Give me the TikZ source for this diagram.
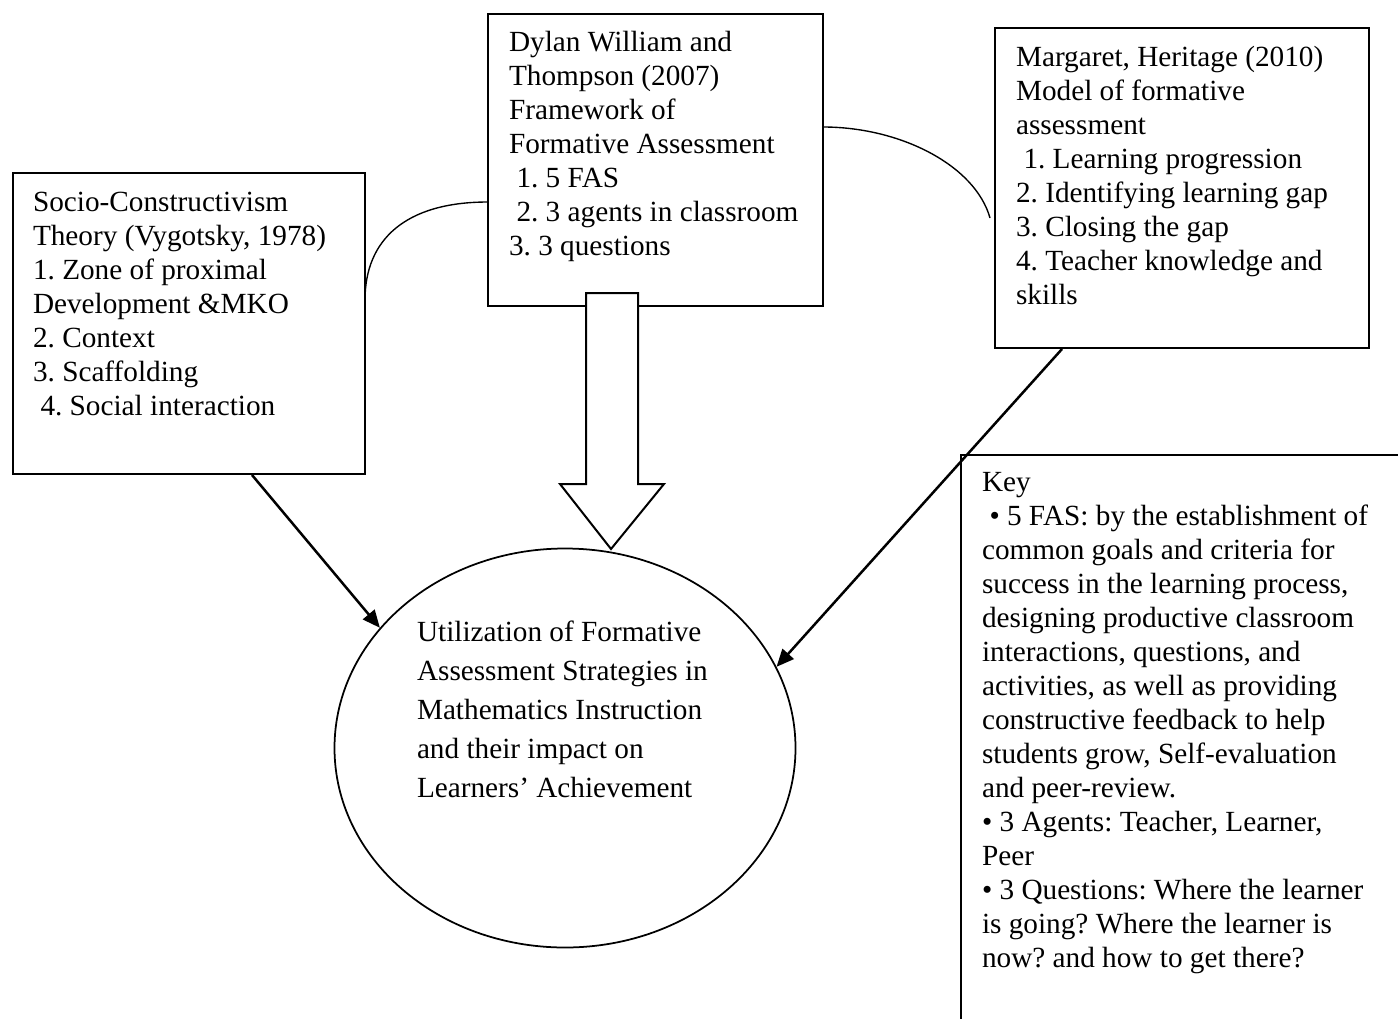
\documentclass[tikz,border=0pt]{standalone}
\usepackage{fontspec}
\setmainfont{Liberation Serif}
\usetikzlibrary{arrows.meta,shapes.geometric}
\frenchspacing
\begin{document}
\begin{tikzpicture}[x=0.4pt,y=-0.4pt,
  box/.style={draw,line width=0.8pt,inner sep=0pt,outer sep=0pt},
  txt/.style={anchor=north west,inner sep=0pt,outer sep=0pt,align=left,font={\fontsize{11.7}{13.6}\selectfont}},
  bigtxt/.style={anchor=north west,inner sep=0pt,outer sep=0pt,align=left,font={\fontsize{11.7}{15.6}\selectfont}},
  arr/.style={line width=1pt,-{Triangle[length=7pt,width=6pt]}},
  link/.style={line width=0.55pt}]
\useasboundingbox (0,0) rectangle (1398,1019);

% boxes
\node[box,minimum width=140.8pt,minimum height=120.4pt] (socio) at (189,323.5) {};
\node[box,minimum width=134pt,minimum height=116.8pt] (dylan) at (655.5,160) {};
\node[box,minimum width=149.6pt,minimum height=128pt] (marg) at (1182,188) {};
\node[draw,ellipse,line width=0.7pt,inner sep=0pt,minimum width=184.4pt,minimum height=159.6pt] (goal) at (565,748) {};

% key box (open at right and bottom edges)
\coordinate (keyTR) at (1398,455);
\coordinate (keyTL) at (961,455);
\coordinate (keyBL) at (961,1019);
\draw[line width=0.8pt] (keyTR) -- (keyTL) -- (keyBL);

% texts
\node[txt] (sociotxt) at (33,188) {\strut Socio-Constructivism\\Theory (Vygotsky, 1978)\\1. Zone of proximal\\Development \&MKO\\2. Context\\3. Scaffolding\\\hspace*{3pt}4. Social interaction};
\node[txt] (dylantxt) at (509,28) {\strut Dylan William and\\Thompson (2007)\\Framework of\\Formative Assessment\\\hspace*{3pt}1. 5 FAS\\\hspace*{3pt}2. 3 agents in classroom\\3. 3 questions};
\node[txt] (margtxt) at (1016,43) {\strut Margaret, Heritage (2010)\\Model of formative\\assessment\\\hspace*{3pt}1. Learning progression\\2. Identifying learning gap\\3. Closing the gap\\4. Teacher knowledge and\\skills};
\node[bigtxt] (goaltxt) at (417,614) {\strut Utilization of Formative\\Assessment Strategies in\\Mathematics Instruction\\and their impact on\\Learners’ Achievement};
\node[txt] (keytxt) at (982,468) {\strut Key\\\hspace*{3pt}• 5 FAS: by the establishment of\\common goals and criteria for\\success in the learning process,\\designing productive classroom\\interactions, questions, and\\activities, as well as providing\\constructive feedback to help\\students grow, Self-evaluation\\and peer-review.\\• 3 Agents: Teacher, Learner,\\Peer\\• 3 Questions: Where the learner\\is going? Where the learner is\\now? and how to get there?};

% curved links
\coordinate (dL) at (488,202);
\coordinate (sR) at (365,300);
\draw[link] (dL) .. controls (405,202) and (365,240) .. (sR);
\coordinate (dR) at (823,127);
\coordinate (mL) at (990,218);
\draw[link] (dR) .. controls (900,127) and (975,165) .. (mL);

% arrows
\coordinate (sB) at (252,475);
\draw[arr] (sB) -- (goal.147);
\coordinate (mB) at (1062,349);
\draw[arr] (mB) -- (goal.21.3);

% block arrow
\draw[line width=0.8pt,fill=white] (586,293) -- (638,293) -- (638,484) -- (664,484) -- (611,549) -- (560,484) -- (586,484) -- cycle;
\end{tikzpicture}
\end{document}
